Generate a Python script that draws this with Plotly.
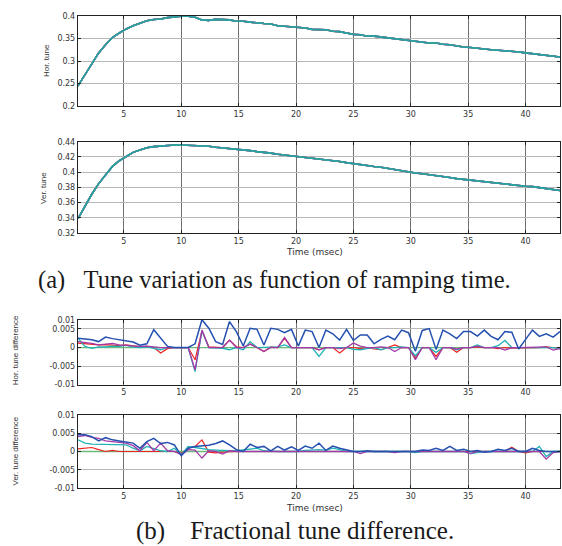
import plotly.graph_objects as go
from plotly.subplots import make_subplots

W, H = 562, 546

# ---------------- data ----------------
time_ms = [round(1 + 0.6 * i, 1) for i in range(71)]

hor_base = [0.245, 0.270, 0.295, 0.318, 0.336, 0.352, 0.362, 0.371, 0.378, 0.384,
            0.389, 0.392, 0.393, 0.396, 0.398, 0.399, 0.399, 0.397, 0.391, 0.390,
            0.392, 0.392, 0.391, 0.388, 0.388, 0.386, 0.384, 0.383, 0.382, 0.378,
            0.377, 0.376, 0.375, 0.373, 0.370, 0.370, 0.369, 0.366, 0.365, 0.362,
            0.359, 0.358, 0.355, 0.355, 0.353, 0.351, 0.349, 0.348, 0.345, 0.344,
            0.342, 0.340, 0.340, 0.337, 0.336, 0.333, 0.331, 0.330, 0.328, 0.327,
            0.325, 0.324, 0.323, 0.321, 0.320, 0.318, 0.316, 0.314, 0.312, 0.311,
            0.309]

ver_base = [0.339, 0.356, 0.371, 0.385, 0.396, 0.4076, 0.415, 0.421, 0.426, 0.429,
            0.432, 0.4335, 0.4345, 0.4355, 0.4357, 0.4357, 0.4355, 0.4350, 0.4345, 0.434,
            0.4327, 0.432, 0.431, 0.430, 0.4295, 0.4283, 0.427, 0.4262, 0.425, 0.4235,
            0.4225, 0.4215, 0.4205, 0.4195, 0.418, 0.417, 0.4163, 0.415, 0.414, 0.4125,
            0.411, 0.410, 0.4088, 0.4075, 0.4065, 0.405, 0.4035, 0.402, 0.400, 0.399,
            0.398, 0.397, 0.396, 0.3945, 0.393, 0.3915, 0.3905, 0.3895, 0.388, 0.387,
            0.386, 0.3855, 0.3845, 0.383, 0.382, 0.3815, 0.381, 0.3795, 0.3785, 0.377,
            0.376]

blue_hor = [0.0025, 0.0024, 0.0021, 0.0016, 0.0028, 0.0024, 0.0021, 0.0018, 0.0015, 0.0006,
            0.0010, 0.0048, 0.0025, 0.0003, 0.0, 0.0, 0.0, 0.0010, 0.0075, 0.0052,
            0.0016, 0.0008, 0.0070, 0.0043, 0.0004, 0.0052, 0.0049, 0.0007, 0.0052, 0.0049,
            0.0040, 0.0049, 0.0004, 0.0047, 0.0043, 0.0000, 0.0047, 0.0037, 0.0020, 0.0049,
            0.0019, 0.0034, 0.0034, 0.0010, 0.0022, 0.0031, 0.0021, 0.0047, 0.0040, -0.0010,
            0.0046, 0.0051, -0.0005, 0.0047, 0.0037, 0.0024, 0.0043, 0.0043, 0.0031, 0.0047,
            0.0030, 0.0021, 0.0043, 0.0041, -0.0004, 0.0022, 0.0047, 0.0030, 0.0037, 0.0028,
            0.0043]

red_hor = [0.0012, 0.0010, 0.0008, 0.0007, 0.0008, 0.0006, 0.0005, 0.0007, 0.0004, 0.0002,
           0.0003, 0.0000, -0.0015, -0.0003, 0.0, 0.0, 0.0, -0.0033, 0.0045, 0.0002,
           0.0, 0.0, 0.0020, 0.0002, 0.0, 0.0010, 0.0, -0.0011, 0.0002, 0.0,
           0.0025, 0.0, 0.0, 0.0, 0.0, -0.0006, 0.0, 0.0, -0.0015, 0.0,
           0.0, -0.0003, 0.0, -0.0004, -0.0006, 0.0, 0.0007, 0.0, 0.0, -0.0028,
           0.0, 0.0, -0.0024, 0.0, 0.0, -0.0013, 0.0, 0.0, 0.0002, 0.0,
           0.0, -0.0003, 0.0, -0.0002, -0.0002, 0.0, -0.0002, 0.0, 0.0002, 0.0,
           -0.0002]

mag_hor = [0.0016, 0.0014, 0.0011, 0.0007, 0.0009, 0.0011, 0.0007, 0.0005, 0.0004, 0.0003,
           0.0004, 0.0001, 0.0, 0.0, 0.0, 0.0, 0.0, -0.0060, 0.0047, 0.0,
           0.0, 0.0, 0.0020, 0.0, 0.0, 0.0009, 0.0, -0.0011, 0.0, 0.0,
           0.0027, 0.0, 0.0, 0.0, 0.0, -0.0006, 0.0, 0.0, -0.0003, 0.0,
           0.0012, 0.0004, 0.0, 0.0, 0.0002, 0.0, -0.0011, 0.0, 0.0, -0.0033,
           0.0, 0.0, -0.0033, 0.0, 0.0, -0.0004, 0.0, 0.0, 0.0004, 0.0,
           0.0, 0.0, -0.0007, 0.0, 0.0, 0.0, 0.0, 0.0002, 0.0002, -0.0007,
           -0.0003]

cyan_hor = [0.0025, 0.0003, -0.0002, 0.0002, 0.0002, 0.0004, 0.0003, 0.0006, 0.0001, 0.0,
            0.0002, -0.0003, -0.0006, 0.0, 0.0, 0.0, 0.0, -0.0065, 0.0045, 0.0,
            0.0, -0.0002, -0.0006, 0.0, -0.0006, 0.0016, 0.0, 0.0, 0.0, 0.0002,
            0.0007, 0.0, 0.0, 0.0, 0.0, -0.0024, 0.0, 0.0, 0.0, 0.0,
            -0.0005, -0.0006, -0.0003, 0.0, -0.0006, 0.0, 0.0, 0.0002, 0.0, -0.0022,
            0.0, 0.0, -0.0013, 0.0, 0.0, -0.0006, 0.0, 0.0, 0.0007, 0.0,
            0.0, 0.0005, 0.0019, 0.0, 0.0, 0.0, 0.0, 0.0, 0.0, 0.0,
            -0.0003]

green_hor = [0.0] * 71

blue_ver = [0.0046, 0.0046, 0.0041, 0.0029, 0.0038, 0.0032, 0.0029, 0.0027, 0.0023, 0.0009,
            0.0027, 0.0036, 0.0022, 0.0025, 0.0018, -0.0012, 0.0009, 0.0014, 0.0016, 0.0017,
            0.0022, 0.0029, 0.0018, 0.0005, 0.0000, 0.0020, 0.0011, 0.0014, 0.0002, 0.0014,
            0.0004, 0.0013, 0.0003, 0.0015, 0.0009, 0.0023, 0.0003, 0.0015, 0.0009, 0.0004,
            0.0, 0.0, 0.0002, 0.0, 0.0, 0.0001, 0.0, 0.0, 0.0, 0.0,
            0.0004, 0.0003, 0.0009, 0.0003, 0.0014, 0.0003, 0.0006, 0.0, 0.0003, -0.0002,
            0.0, 0.0006, 0.0003, 0.0009, 0.0, 0.0, 0.0009, 0.0003, 0.0, 0.0,
            0.0]

red_ver = [0.0007, 0.0010, 0.0011, 0.0005, 0.0, 0.0003, 0.0, 0.0, 0.0, 0.0,
           0.0, 0.0, 0.0, 0.0, 0.0, -0.0005, 0.0009, 0.0014, 0.0032, -0.0002,
           -0.0004, -0.0002, 0.0, 0.0, 0.0, 0.0, 0.0, 0.0, 0.0, 0.0,
           0.0, 0.0, 0.0, 0.0, 0.0, 0.0, 0.0, 0.0, 0.0, 0.0,
           0.0, 0.0, 0.0, 0.0, 0.0, 0.0, 0.0, 0.0, 0.0, 0.0,
           0.0, 0.0, 0.0, 0.0, 0.0, 0.0, 0.0, 0.0, 0.0, 0.0,
           0.0, 0.0, 0.0, 0.0012, 0.0, -0.0004, 0.0, 0.0, 0.0, 0.0,
           0.0]

mag_ver = [0.0041, 0.0044, 0.0039, 0.0036, 0.0029, 0.0026, 0.0025, 0.0023, 0.0016, 0.0002,
           0.0025, 0.0002, 0.0023, 0.0002, 0.0, -0.0009, 0.0005, 0.0004, -0.0018, 0.0002,
           0.0, -0.0007, 0.0002, 0.0, 0.0, 0.0, 0.0, 0.0, 0.0, 0.0,
           0.0, 0.0, 0.0, 0.0, 0.0, 0.0, 0.0, 0.0, 0.0, 0.0,
           0.0, -0.0006, 0.0, 0.0, 0.0, 0.0, -0.0003, 0.0, 0.0, 0.0,
           0.0, 0.0, 0.0, 0.0, 0.0, 0.0, 0.0, -0.0006, 0.0, 0.0,
           0.0, 0.0, 0.0, 0.0, 0.0, 0.0, 0.0, 0.0, -0.0021, -0.0003,
           0.0]

cyan_ver = [0.0032, 0.0023, 0.0020, 0.0020, 0.0018, 0.0020, 0.0018, 0.0018, 0.0009, 0.0002,
            0.0014, 0.0009, 0.0002, 0.0, 0.0009, -0.0009, 0.0014, 0.0011, 0.0007, 0.0005,
            0.0004, 0.0002, 0.0002, 0.0002, 0.0004, 0.0007, 0.0009, 0.0002, 0.0, 0.0,
            0.0, 0.0, 0.0, 0.0003, 0.0005, 0.0005, 0.0004, 0.0009, 0.0005, 0.0,
            0.0, 0.0, 0.0, 0.0, 0.0, 0.0, 0.0, 0.0, 0.0, -0.0003,
            0.0, 0.0, 0.0, 0.0, 0.0, 0.0, 0.0, -0.0006, -0.0003, 0.0,
            0.0, 0.0, 0.0, 0.0, 0.0, 0.0, 0.0, 0.0014, -0.0014, 0.0,
            0.0]

green_ver = [0.0] * 71

x_ticks = [5, 10, 15, 20, 25, 30, 35, 40]
hor_ticks = [0.2, 0.25, 0.3, 0.35, 0.4]
hor_ticktext = ["0.2", "0.25", "0.3", "0.35", "0.4"]
ver_ticks = [0.32, 0.34, 0.36, 0.38, 0.4, 0.42, 0.44]
ver_ticktext = ["0.32", "0.34", "0.36", "0.38", "0.4", "0.42", "0.44"]
hdiff_tickvals = [-0.01, -0.005, 0, 0.005, 0.0075]
hdiff_ticktext = ["-0.01", "-0.005", "0", "0.005", "0.01"]
vdiff_ticks = [-0.01, -0.005, 0, 0.005, 0.01]
vdiff_ticktext = ["-0.01", "-0.005", "0", "0.005", "0.01"]

# ---------------- styling ----------------
COL = {"green": "#6cb97c", "red": "#ee2222", "cyan": "#22b2b6",
       "mag": "#a23aa8", "blue": "#2450b0"}
WID = {"green": 1.3, "red": 1.2, "cyan": 1.3, "mag": 1.3, "blue": 1.5}

hor_diffs = {"green": green_hor, "red": red_hor, "mag": mag_hor, "blue": blue_hor, "cyan": cyan_hor}
ver_diffs = {"green": green_ver, "red": red_ver, "mag": mag_ver, "blue": blue_ver, "cyan": cyan_ver}

fig = make_subplots(rows=4, cols=1)

# top panels: all settings give practically the same tune curve; cyan drawn last
top_order = ["red", "mag", "blue", "green", "cyan"]
for key in top_order:
    fig.add_trace(go.Scatter(x=time_ms, y=hor_base, mode="lines",
                             line=dict(color=COL[key] if key != "cyan" else "#259fa3", width=1.6),
                             showlegend=False, hoverinfo="skip"), row=1, col=1)
    fig.add_trace(go.Scatter(x=time_ms, y=ver_base, mode="lines",
                             line=dict(color=COL[key] if key != "cyan" else "#259fa3", width=1.6),
                             showlegend=False, hoverinfo="skip"), row=2, col=1)

bot_order = ["green", "red", "cyan", "mag", "blue"]
for key in bot_order:
    fig.add_trace(go.Scatter(x=time_ms, y=hor_diffs[key], mode="lines",
                             line=dict(color=COL[key], width=WID[key]),
                             showlegend=False, hoverinfo="skip"), row=3, col=1)
    fig.add_trace(go.Scatter(x=time_ms, y=ver_diffs[key], mode="lines",
                             line=dict(color=COL[key], width=WID[key]),
                             showlegend=False, hoverinfo="skip"), row=4, col=1)


def ydom(top_px, bot_px):
    return [1 - bot_px / H, 1 - top_px / H]


xdom = [78 / W, 560 / W]
tickfont = dict(family="DejaVu Sans", size=8, color="#333333")
common_x = dict(range=[1, 43], tickvals=x_ticks, ticks="inside", ticklen=3, tickcolor="#222",
                showline=True, linecolor="#222", linewidth=1.4, mirror="ticks",
                showgrid=True, gridcolor="#707070", gridwidth=1, zeroline=False,
                tickfont=tickfont, domain=xdom)
common_y = dict(ticks="inside", ticklen=3, tickcolor="#222",
                showline=True, linecolor="#222", linewidth=1.4, mirror="ticks",
                showgrid=True, gridcolor="#b8b8b8", gridwidth=1, zeroline=False,
                tickfont=tickfont)

fig.update_layout(
    width=W, height=H, margin=dict(l=0, r=0, t=0, b=0),
    paper_bgcolor="white", plot_bgcolor="white",
    xaxis=dict(**common_x), xaxis2=dict(**common_x), xaxis3=dict(**common_x), xaxis4=dict(**common_x),
    yaxis=dict(**common_y, range=[0.2, 0.4], tickvals=hor_ticks,
               ticktext=hor_ticktext, domain=ydom(12, 104)),
    yaxis2=dict(**common_y, range=[0.32, 0.44], tickvals=ver_ticks,
                ticktext=ver_ticktext, domain=ydom(140, 233)),
    yaxis3=dict(**common_y, range=[-0.01, 0.0075], tickvals=hdiff_tickvals,
                ticktext=hdiff_ticktext, domain=ydom(321, 387)),
    yaxis4=dict(**common_y, range=[-0.01, 0.01], tickvals=vdiff_ticks,
                ticktext=vdiff_ticktext, domain=ydom(418, 492)),
)


def ann(text, xpx, ypx, size, family, color="#222", angle=0, xanchor="center"):
    fig.add_annotation(text=text, x=xpx / W, y=1 - ypx / H, xref="paper", yref="paper",
                       showarrow=False, textangle=angle, xanchor=xanchor, yanchor="middle",
                       font=dict(size=size, family=family, color=color))


narrow = "Liberation Sans Narrow, Liberation Sans, Arial"
serif = "Liberation Serif, Times New Roman"
ann("Hor. tune", 46, 58, 8, narrow, "#333", -90)
ann("Ver. tune", 44, 187, 8, narrow, "#333", -90)
ann("Hor. tune difference", 15, 352, 8, narrow, "#333", -90)
ann("Ver. tune difference", 15, 455, 8, narrow, "#333", -90)
ann("Time (msec)", 284, 252, 9, "DejaVu Sans", "#333", xanchor="left")
ann("Time (msec)", 284, 512, 9, "DejaVu Sans", "#333", xanchor="left")
ann("(a)\u00a0\u00a0\u00a0Tune variation as function of ramping time.", 274, 281, 24.5, serif, "#1a1a1a")
ann("(b)\u00a0\u00a0\u00a0\u00a0Fractional tune difference.", 295, 536, 25, serif, "#1a1a1a")

fig.write_html("out.html", config={"displayModeBar": False},
               post_script="document.body.style.margin='0';document.body.style.overflow='hidden';")
